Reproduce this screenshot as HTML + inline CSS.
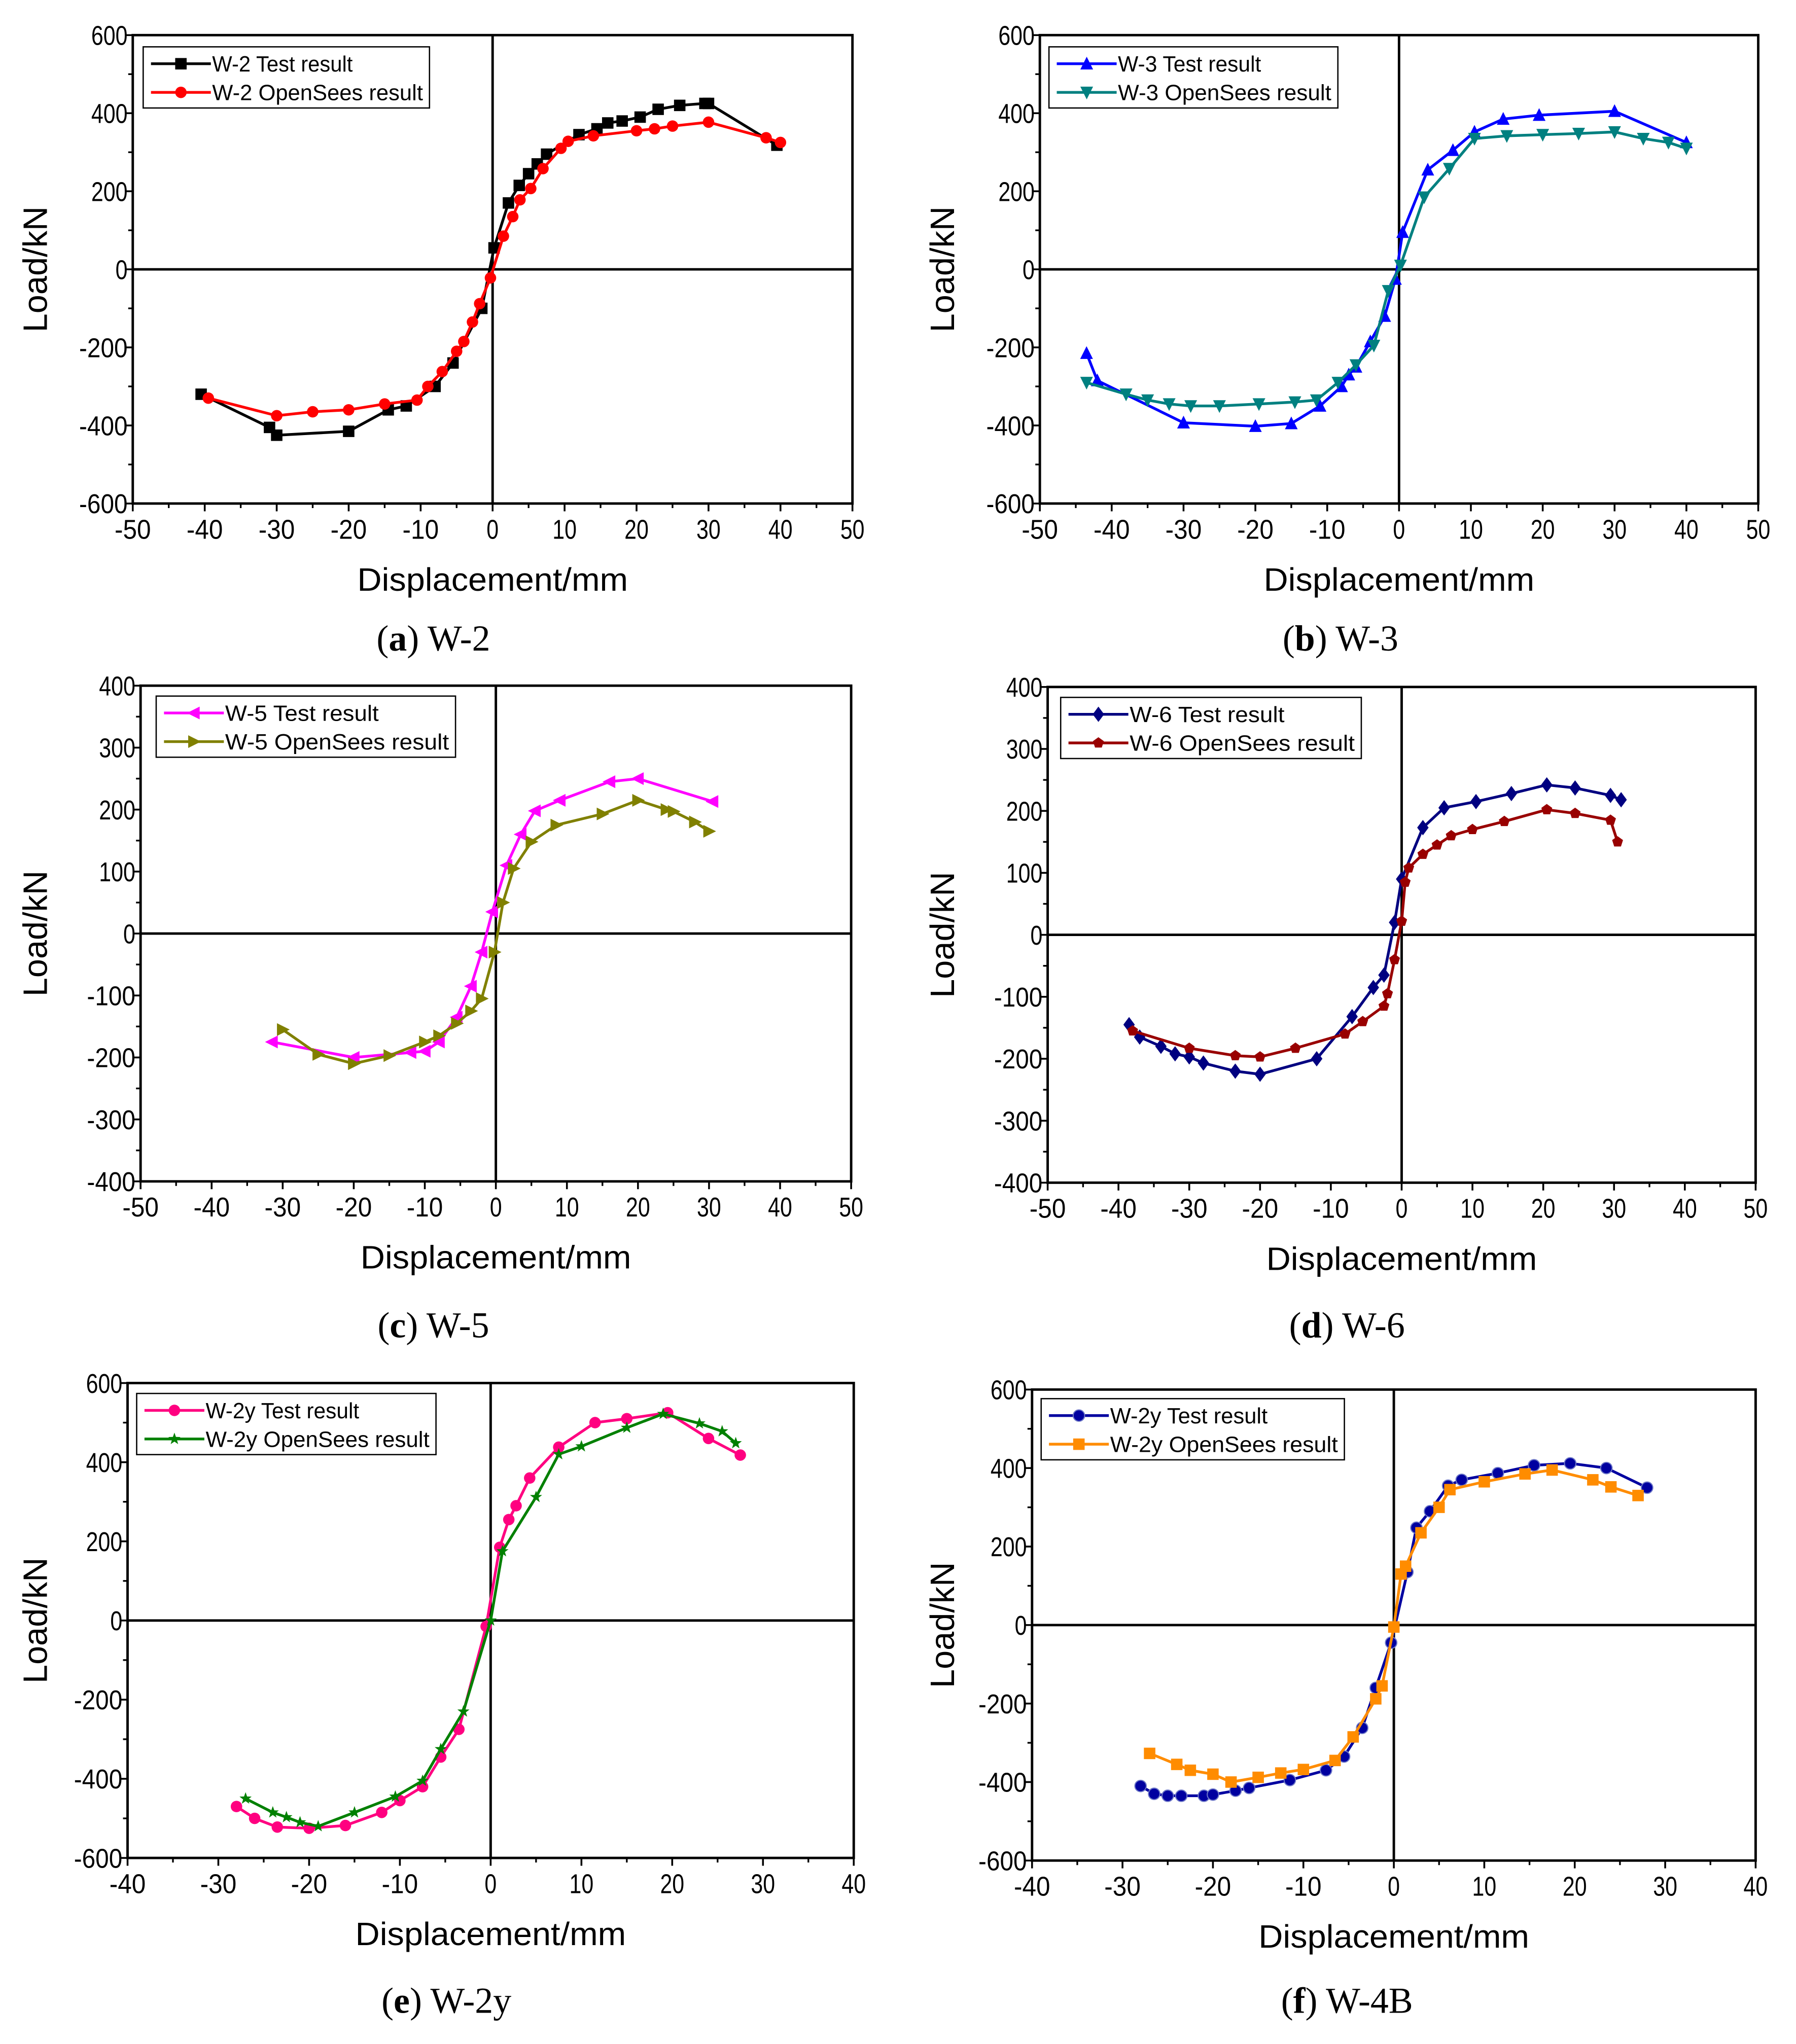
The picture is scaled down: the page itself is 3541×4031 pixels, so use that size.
<!DOCTYPE html>
<html><head><meta charset="utf-8"><title>Load-displacement comparison</title>
<style>html,body{margin:0;padding:0;background:#fff}svg{display:block}</style></head>
<body>
<svg id="fig" xmlns="http://www.w3.org/2000/svg" width="3541" height="4031" viewBox="0 0 1380 1571">
<rect x="0" y="0" width="1380" height="1571" fill="#fff"/>
</svg>
<script>
// ---- Panel (a) W-2 ----
const aTestX=[-40.5,-31,-30,-20,-14.5,-12,-8,-5.5,-1.5,0.2,2.2,3.7,5,6.2,7.5,12,14.5,16,18,20.5,23,26,29.5,30,39.5];
const aTestY=[-320,-405,-425,-415,-360,-350,-300,-240,-100,55,170,215,245,270,295,345,360,375,380,390,410,420,425,425,318];
const aSimX=[-39.5,-30,-25,-20,-15,-10.5,-9,-7,-5,-4,-2.8,-1.8,-0.3,1.5,2.8,3.8,5.3,7,9.5,10.5,14,20,22.5,25,30,38,40];
const aSimY=[-330,-375,-365,-360,-345,-335,-300,-262,-210,-185,-135,-88,-22,85,135,178,207,258,310,328,342,355,360,367,377,337,325];
// ---- Panel (b) W-3 ----
const bTestX=[-43.5,-42,-30,-20,-15,-11,-8,-7,-6,-4,-2,-0.5,0.5,4,7.5,10.5,14.5,19.5,30,40];
const bTestY=[-215,-285,-393,-402,-395,-350,-300,-270,-250,-185,-120,-25,95,255,305,352,385,395,405,325];
const bSimX=[-43.5,-38,-35,-32,-29,-25,-19.5,-14.5,-11.5,-8.5,-6,-3.5,-1.5,0.2,3.5,7,10.5,15,20,25,30,34,37.5,40];
const bSimY=[-290,-320,-335,-345,-350,-350,-345,-340,-335,-290,-245,-195,-55,10,185,258,335,342,345,348,352,335,325,310];
// ---- Panel (c) W-5 ----
const cTestX=[-31.5,-20,-12,-10,-8,-5.5,-3.5,-2,-0.5,1.5,3.5,5.5,9,16,20,30.5];
const cTestY=[-175,-200,-192,-190,-175,-135,-85,-30,35,110,160,198,215,245,250,213];
const cSimX=[-30,-25,-20,-15,-10,-8,-5.5,-3.5,-2,-0.2,1,2.5,5,8.5,15,20,24,25,28,30];
const cSimY=[-155,-195,-210,-197,-175,-165,-145,-125,-105,-30,50,105,148,175,193,215,200,197,180,165];
// ---- Panel (d) W-6 ----
const dTestX=[-38.5,-37,-34,-32,-30,-28,-23.5,-20,-12,-7,-4,-2.5,-1,0,3,6,10.5,15.5,20.5,24.5,29.5,31];
const dTestY=[-145,-165,-180,-192,-197,-207,-220,-225,-200,-132,-85,-65,20,90,173,205,215,228,242,237,225,218];
const dSimX=[-38,-30,-23.5,-20,-15,-8,-5.5,-2.5,-2,-1,0,0.5,1,3,5,7,10,14.5,20.5,24.5,29.5,30.5];
const dSimY=[-155,-183,-195,-197,-183,-160,-140,-115,-95,-40,22,85,108,130,145,160,170,183,202,196,185,150];
// ---- Panel (e) W-2y ----
const eTestX=[-28,-26,-23.5,-20,-16,-12,-10,-7.5,-5.5,-3.5,-0.5,1,2,2.8,4.3,7.5,11.5,15,19.5,24,27.5];
const eTestY=[-470,-500,-522,-525,-518,-485,-455,-420,-345,-275,-15,185,255,290,360,438,500,510,525,460,418];
const eSimX=[-27,-24,-22.5,-21,-19,-15,-10.5,-7.5,-5.5,-3,0,1.3,5,7.5,10,15,19,23,25.5,27];
const eSimY=[-450,-485,-497,-510,-520,-485,-445,-405,-325,-230,0,175,312,420,440,487,522,498,478,448];
// ---- Panel (f) W-4B ----
const fTestX=[-28,-26.5,-25,-23.5,-21,-20,-17.5,-16,-11.5,-7.5,-5.5,-3.5,-2,-0.3,1.5,2.5,4,6,7.5,11.5,15.5,19.5,23.5,28];
const fTestY=[-410,-430,-435,-435,-435,-432,-422,-415,-395,-370,-335,-262,-160,-45,135,248,290,355,370,387,407,412,400,350];
const fSimX=[-27,-24,-22.5,-20,-18,-15,-12.5,-10,-6.5,-4.5,-2,-1.3,0,0.8,1.3,3,5,6.2,10,14.5,17.5,22,24,27];
const fSimY=[-327,-355,-370,-380,-400,-388,-377,-368,-345,-285,-188,-155,-5,130,150,235,300,345,365,385,395,370,352,330];

const xTicks50=[-50,-40,-30,-20,-10,0,10,20,30,40,50];
const xTicks40=[-40,-30,-20,-10,0,10,20,30,40];
const yTicks600=[-600,-400,-200,0,200,400,600];
const yTicks400=[-400,-300,-200,-100,0,100,200,300,400];

const NS='http://www.w3.org/2000/svg';
const svg=document.getElementById('fig');
function mk(tag,attrs,parent){const e=document.createElementNS(NS,tag);for(const k in attrs)e.setAttribute(k,attrs[k]);(parent||svg).appendChild(e);return e;}

function marker(g,shape,cx,cy,color){
  const s=4.4;let e;
  if(shape==='square'){e=mk('rect',{x:cx-s,y:cy-s,width:2*s,height:2*s,fill:color},g);}
  else if(shape==='circle'){e=mk('circle',{cx:cx,cy:cy,r:s,fill:color},g);}
  else if(shape==='ball'){e=mk('circle',{cx:cx,cy:cy,r:s,fill:color,stroke:'#6f79c8','stroke-width':0.8},g);}
  else if(shape==='up'){e=mk('polygon',{points:`${cx},${cy-s-1} ${cx-s-0.5},${cy+s} ${cx+s+0.5},${cy+s}`,fill:color},g);}
  else if(shape==='down'){e=mk('polygon',{points:`${cx},${cy+s+1} ${cx-s-0.5},${cy-s} ${cx+s+0.5},${cy-s}`,fill:color},g);}
  else if(shape==='left'){e=mk('polygon',{points:`${cx-s-1},${cy} ${cx+s},${cy-s-0.5} ${cx+s},${cy+s+0.5}`,fill:color},g);}
  else if(shape==='right'){e=mk('polygon',{points:`${cx+s+1},${cy} ${cx-s},${cy-s-0.5} ${cx-s},${cy+s+0.5}`,fill:color},g);}
  else if(shape==='diamond'){e=mk('polygon',{points:`${cx},${cy-s-1.5} ${cx+s},${cy} ${cx},${cy+s+1.5} ${cx-s},${cy}`,fill:color},g);}
  else if(shape==='pent'){let p=[];for(let i=0;i<5;i++){const a=-Math.PI/2+i*2*Math.PI/5;p.push((cx+s*Math.cos(a)).toFixed(2)+','+(cy+s*Math.sin(a)).toFixed(2));}e=mk('polygon',{points:p.join(' '),fill:color},g);}
  else if(shape==='star'){let p=[];for(let i=0;i<10;i++){const r=i%2?s*0.45:s+0.5;const a=-Math.PI/2+i*Math.PI/5;p.push((cx+r*Math.cos(a)).toFixed(2)+','+(cy+r*Math.sin(a)).toFixed(2));}e=mk('polygon',{points:p.join(' '),fill:color},g);}
  return e;
}

function panel(o){
  const g=mk('g',{});
  
  
  const {L,R,T,B,xmin,xmax,ymin,ymax}=o;
  const sx=v=>L+(v-xmin)/(xmax-xmin)*(R-L);
  const sy=v=>B-(v-ymin)/(ymax-ymin)*(B-T);
  const xt=o.xTicks, yt=o.yTicks;
  const xg=mk('g',{},g);
  
  
  xt.forEach((v,i)=>{
    const x=sx(v);
    mk('line',{x1:x,y1:B,x2:x,y2:B+6,stroke:'#000','stroke-width':1.4},xg);
    if(i<xt.length-1){const xm=sx((v+xt[i+1])/2);mk('line',{x1:xm,y1:B,x2:xm,y2:B+3.5,stroke:'#000','stroke-width':1.3},xg);}
    const t=mk('text',{x:x,y:B+27,'text-anchor':'middle','font-family':'Liberation Sans, sans-serif','font-size':21,textLength:String(v).length*9.3,lengthAdjust:'spacingAndGlyphs'},xg);
    t.textContent=String(v);
    
    
  });
  const yg=mk('g',{},g);
  
  
  yt.forEach((v,i)=>{
    const y=sy(v);
    mk('line',{x1:L-6,y1:y,x2:L,y2:y,stroke:'#000','stroke-width':1.4},yg);
    if(i<yt.length-1){const ym=sy((v+yt[i+1])/2);mk('line',{x1:L-3.5,y1:ym,x2:L,y2:ym,stroke:'#000','stroke-width':1.3},yg);}
    const t=mk('text',{x:L-4,y:y+7.5,'text-anchor':'end','font-family':'Liberation Sans, sans-serif','font-size':21,textLength:String(v).length*9.3,lengthAdjust:'spacingAndGlyphs'},yg);
    t.textContent=String(v);
    
    
  });
  mk('line',{x1:L,y1:sy(0),x2:R,y2:sy(0),stroke:'#000','stroke-width':1.9},g);
  mk('line',{x1:sx(0),y1:T,x2:sx(0),y2:B,stroke:'#000','stroke-width':1.9},g);
  const box=mk('rect',{x:L,y:T,width:R-L,height:B-T,fill:'none',stroke:'#000','stroke-width':1.9},g);
  
  
  const xtl=mk('text',{x:(L+R)/2,y:B+67,'text-anchor':'middle','font-family':'Liberation Sans, sans-serif','font-size':25,textLength:208,lengthAdjust:'spacingAndGlyphs'},g);
  xtl.textContent='Displacement/mm';
  
  
  const cy=(T+B)/2;
  const ytl=mk('text',{x:o.yTitleX,y:cy,'text-anchor':'middle','font-family':'Liberation Sans, sans-serif','font-size':26,transform:`rotate(-90 ${o.yTitleX} ${cy})`},g);
  ytl.textContent='Load/kN';
  
  
  o.series.forEach((s,k)=>{
    const sg=mk('g',{},g);
    
    
    const pts=s.x.map((v,i)=>sx(v).toFixed(2)+','+sy(s.y[i]).toFixed(2)).join(' ');
    mk('polyline',{points:pts,fill:'none',stroke:s.color,'stroke-width':2.1,'stroke-linejoin':'round'},sg);
    s.x.forEach((v,i)=>{
      const m=marker(sg,s.shape,sx(v),sy(s.y[i]),s.color);
      
      
    });
  });
  const lg=mk('g',{},g);
  
  
  mk('rect',{x:o.leg[0],y:o.leg[1],width:o.leg[2],height:47,fill:'#fff',stroke:'#000','stroke-width':1},lg);
  o.series.forEach((s,k)=>{
    const ly=o.leg[1]+13+k*22;
    const x0=o.leg[0]+6;
    const eg=mk('g',{},lg);
    
    
    mk('line',{x1:x0,y1:ly,x2:x0+46,y2:ly,stroke:s.color,'stroke-width':2.1},eg);
    marker(eg,s.shape,x0+23,ly,s.color);
    const t=mk('text',{x:x0+47,y:ly+6,'font-family':'Liberation Sans, sans-serif','font-size':17,textLength:o.leg[2]-58-(k?0:o.leg[3]),lengthAdjust:'spacingAndGlyphs'},eg);
    t.textContent=s.label;
  });
  const cap=mk('text',{x:o.cap[0],y:o.cap[1],'text-anchor':'middle','font-family':'Liberation Serif, serif','font-size':28},g);
  const b=mk('tspan',{},cap);b.textContent='(';
  const bb=mk('tspan',{'font-weight':'bold'},cap);bb.textContent=o.capLetter;
  const rest=mk('tspan',{},cap);rest.textContent=') '+o.capText;
  
  
}

panel({name:'panel-a-w2',L:102,R:655,T:27,B:387,xmin:-50,xmax:50,ymin:-600,ymax:600,xTicks:xTicks50,yTicks:yTicks600,yTitleX:36,
  leg:[110,36,220,54],cap:[333,500],capLetter:'a',capText:'W-2',
  series:[{id:'w2-test-series',label:'W-2 Test result',color:'#000',shape:'square',x:aTestX,y:aTestY},
          {id:'w2-opensees-series',label:'W-2 OpenSees result',color:'#f00',shape:'circle',x:aSimX,y:aSimY}]});
panel({name:'panel-b-w3',L:799,R:1351,T:27,B:387,xmin:-50,xmax:50,ymin:-600,ymax:600,xTicks:xTicks50,yTicks:yTicks600,yTitleX:733,
  leg:[806,36,222,54],cap:[1030,500],capLetter:'b',capText:'W-3',
  series:[{id:'w3-test-series',label:'W-3 Test result',color:'#0000ff',shape:'up',x:bTestX,y:bTestY},
          {id:'w3-opensees-series',label:'W-3 OpenSees result',color:'#008080',shape:'down',x:bSimX,y:bSimY}]});
panel({name:'panel-c-w5',L:108,R:654,T:527,B:908,xmin:-50,xmax:50,ymin:-400,ymax:400,xTicks:xTicks50,yTicks:yTicks400,yTitleX:36,
  leg:[120,535,230,54],cap:[333,1028],capLetter:'c',capText:'W-5',
  series:[{id:'w5-test-series',label:'W-5 Test result',color:'#ff00ff',shape:'left',x:cTestX,y:cTestY},
          {id:'w5-opensees-series',label:'W-5 OpenSees result',color:'#808000',shape:'right',x:cSimX,y:cSimY}]});
panel({name:'panel-d-w6',L:805,R:1349,T:528,B:909,xmin:-50,xmax:50,ymin:-400,ymax:400,xTicks:xTicks50,yTicks:yTicks400,yTitleX:733,
  leg:[815,536,231,54],cap:[1035,1028],capLetter:'d',capText:'W-6',
  series:[{id:'w6-test-series',label:'W-6 Test result',color:'#000080',shape:'diamond',x:dTestX,y:dTestY},
          {id:'w6-opensees-series',label:'W-6 OpenSees result',color:'#990000',shape:'pent',x:dSimX,y:dSimY}]});
panel({name:'panel-e-w2y',L:98,R:656,T:1063,B:1428,xmin:-40,xmax:40,ymin:-600,ymax:600,xTicks:xTicks40,yTicks:yTicks600,yTitleX:36,
  leg:[105,1071,230,54],cap:[343,1547],capLetter:'e',capText:'W-2y',
  series:[{id:'w2y-test-series',label:'W-2y Test result',color:'#ff0080',shape:'circle',x:eTestX,y:eTestY},
          {id:'w2y-opensees-series',label:'W-2y OpenSees result',color:'#008000',shape:'star',x:eSimX,y:eSimY}]});
panel({name:'panel-f-w4b',L:793,R:1349,T:1068,B:1430,xmin:-40,xmax:40,ymin:-600,ymax:600,xTicks:xTicks40,yTicks:yTicks600,yTitleX:733,
  leg:[800,1075,233,54],cap:[1035,1547],capLetter:'f',capText:'W-4B',
  series:[{id:'w4b-test-series',label:'W-2y Test result',color:'#0000a0',shape:'ball',x:fTestX,y:fTestY},
          {id:'w4b-opensees-series',label:'W-2y OpenSees result',color:'#ff8c00',shape:'square',x:fSimX,y:fSimY}]});
</script>
</body></html>
